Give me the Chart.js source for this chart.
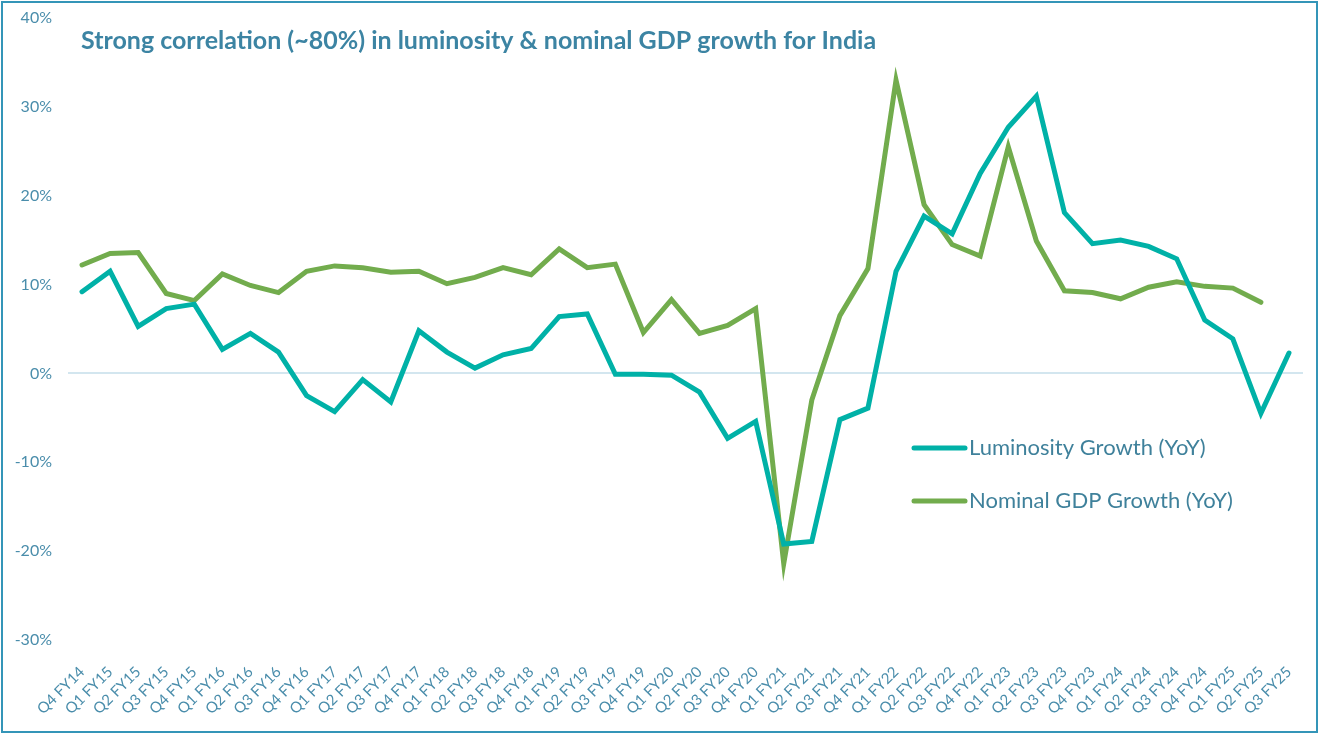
<!DOCTYPE html>
<html>
<head>
<meta charset="utf-8">
<script src="https://cdn.jsdelivr.net/npm/chart.js@4.4.1/dist/chart.umd.min.js"></script>
<style>
html,body{margin:0;padding:0;background:#fff;}
#wrap{width:1319px;height:734px;position:relative;}
canvas{display:block;}
</style>
</head>
<body>
<div id="wrap"><canvas id="c" width="1319" height="734"></canvas></div>
<script>
const categories = ["Q4 FY14","Q1 FY15","Q2 FY15","Q3 FY15","Q4 FY15","Q1 FY16","Q2 FY16","Q3 FY16","Q4 FY16","Q1 FY17","Q2 FY17","Q3 FY17","Q4 FY17","Q1 FY18","Q2 FY18","Q3 FY18","Q4 FY18","Q1 FY19","Q2 FY19","Q3 FY19","Q4 FY19","Q1 FY20","Q2 FY20","Q3 FY20","Q4 FY20","Q1 FY21","Q2 FY21","Q3 FY21","Q4 FY21","Q1 FY22","Q2 FY22","Q3 FY22","Q4 FY22","Q1 FY23","Q2 FY23","Q3 FY23","Q4 FY23","Q1 FY24","Q2 FY24","Q3 FY24","Q4 FY24","Q1 FY25","Q2 FY25","Q3 FY25"];
const luminosityGrowth = [9.2,11.5,5.3,7.3,7.8,2.7,4.5,2.4,-2.5,-4.3,-0.7,-3.2,4.8,2.4,0.6,2.1,2.8,6.4,6.7,-0.1,-0.1,-0.2,-2.1,-7.3,-5.4,-19.2,-18.9,-5.2,-3.9,11.5,17.7,15.7,22.5,27.7,31.2,18.1,14.6,15.0,14.3,12.9,6.0,3.9,-4.5,2.3];
const nominalGdpGrowth = [12.2,13.5,13.6,9.0,8.2,11.2,9.9,9.1,11.5,12.1,11.9,11.4,11.5,10.1,10.8,11.9,11.1,14.0,11.9,12.3,4.6,8.3,4.5,5.4,7.3,-21.4,-3.0,6.5,11.8,33.0,19.0,14.5,13.2,25.5,14.9,9.3,9.1,8.4,9.7,10.3,9.8,9.6,8.0,null];
const yTicks = [-30,-20,-10,0,10,20,30,40];
const titleText = "Strong correlation (~80%) in luminosity & nominal GDP growth for India";
const seriesNames = ["Luminosity Growth (YoY)","Nominal GDP Growth (YoY)"];

const TEAL = "#00B1A7";
const GREEN = "#72AC4D";
const AXIS_TEXT = "#4A8DAB";

const decor = {
  id: 'decor',
  afterDraw(chart) {
    const ctx = chart.ctx;
    ctx.save();
    ctx.strokeStyle = "#3495B8";
    ctx.lineWidth = 2;
    ctx.strokeRect(2, 2, 1315, 730);
    ctx.fillStyle = "#3C84A3";
    ctx.font = "bold 25px Lato";
    ctx.textBaseline = "alphabetic";
    ctx.textAlign = "left";
    ctx.fillText(titleText, 81, 49);
    const items = [
      {label: seriesNames[0], color: TEAL, y: 448},
      {label: seriesNames[1], color: GREEN, y: 501}
    ];
    ctx.font = "22px Lato";
    ctx.textBaseline = "middle";
    items.forEach(it => {
      ctx.strokeStyle = it.color;
      ctx.lineWidth = 5;
      ctx.lineCap = "round";
      ctx.beginPath();
      ctx.moveTo(914, it.y);
      ctx.lineTo(965, it.y);
      ctx.stroke();
      ctx.fillStyle = "#3F819B";
      ctx.fillText(it.label, 969, it.y);
    });
    ctx.restore();
  }
};

new Chart(document.getElementById('c'), {
  type: 'line',
  data: {
    labels: categories,
    datasets: [
      {label: seriesNames[0], data: luminosityGrowth, borderColor: TEAL, backgroundColor: TEAL, borderWidth: 5, pointRadius: 0, tension: 0, borderCapStyle: 'round', borderJoinStyle: 'miter'},
      {label: seriesNames[1], data: nominalGdpGrowth, borderColor: GREEN, backgroundColor: GREEN, borderWidth: 5, pointRadius: 0, tension: 0, borderCapStyle: 'round', borderJoinStyle: 'miter'}
    ]
  },
  options: {
    responsive: false,
    animation: false,
    devicePixelRatio: 1,
    layout: {padding: {top: 18, right: 16, left: 0, bottom: 0}},
    plugins: {legend: {display: false}, title: {display: false}, tooltip: {enabled: false}},
    scales: {
      x: {
        offset: true,
        grid: {display: false},
        border: {display: false},
        ticks: {color: AXIS_TEXT, font: {family: 'Lato', size: 15}, maxRotation: 45, minRotation: 45, autoSkip: false, padding: 15},
        afterFit(scale) { scale.height = 94; }
      },
      y: {
        min: -30, max: 40,
        afterBuildTicks(scale) { scale.ticks = yTicks.map(v => ({value: v})); },
        grid: {
          drawTicks: false,
          color: c => (c.tick && c.tick.value === 0) ? '#D3E6EF' : 'rgba(0,0,0,0)',
          lineWidth: 2
        },
        border: {display: false},
        ticks: {color: AXIS_TEXT, font: {family: 'Lato', size: 16}, padding: 16, callback: v => v + '%'},
        afterFit(scale) { scale.width = 68; scale.paddingTop = 0; scale.paddingBottom = 0; }
      }
    }
  },
  plugins: [decor]
});
</script>
</body>
</html>
